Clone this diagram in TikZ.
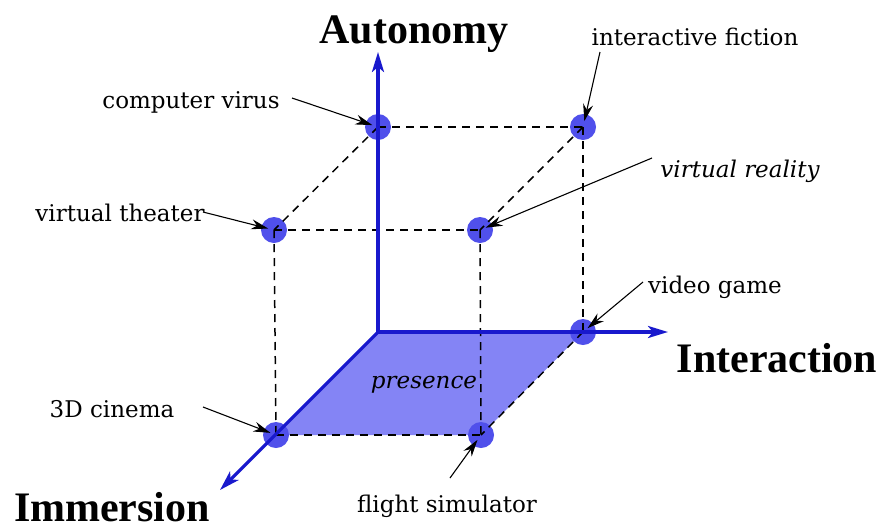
\documentclass[tikz,border=0pt]{standalone}
\usepackage{fontspec}
\setmainfont{Liberation Serif}
\newfontfamily\lblfont{DejaVu Serif}
\usetikzlibrary{arrows.meta}
\definecolor{axisblue}{RGB}{25,25,205}
\definecolor{dotblue}{RGB}{80,80,235}
\definecolor{planeblue}{RGB}{132,132,245}
\tikzset{
  dotnode/.style={circle,fill=dotblue,draw=none,minimum size=26pt,inner sep=0pt},
  axisline/.style={draw=axisblue,line width=3.2pt,-{Stealth[length=20pt,width=12pt,inset=5pt]}},
  dashline/.style={draw=black,line width=1.5pt,dash pattern=on 8pt off 6pt},
  leader/.style={draw=black,line width=1.1pt,-{Stealth[length=17pt,width=10pt]},shorten >=6pt},
  lbl/.style={font=\lblfont\fontsize{23}{26}\selectfont,inner sep=0pt,anchor=base},
  ilbl/.style={font=\lblfont\itshape\fontsize{23}{26}\selectfont,inner sep=0pt,anchor=base},
  biglbl/.style={font=\bfseries\fontsize{42}{48}\selectfont,inner sep=0pt,anchor=base}
}
\begin{document}
\begin{tikzpicture}[x=1pt,y=-1pt]
\useasboundingbox (0,0) rectangle (883,531);
\fill[white] (0,0) rectangle (883,531);
% corner coordinates
\coordinate (O) at (378,332);
\coordinate (autTip) at (378,52);
\coordinate (intTip) at (668,332);
\coordinate (immTip) at (220,490);
% presence plane
\fill[planeblue] (378,332) -- (583,332) -- (481,435) -- (276,435) -- cycle;
% dots
\node[dotnode] (cv) at (378,127) {};
\node[dotnode] (if) at (583,127) {};
\node[dotnode] (vt) at (274,230) {};
\node[dotnode] (vr) at (480,230) {};
\node[dotnode] (vg) at (583,332) {};
\node[dotnode] (c3) at (276,435) {};
\node[dotnode] (fs) at (481,435) {};
% dashed cube edges
\draw[dashline] (cv.center) -- (if.center);
\draw[dashline] (vt.center) -- (vr.center);
\draw[dashline] (c3.center) -- (fs.center);
\draw[dashline] (cv.center) -- (vt.center);
\draw[dashline] (if.center) -- (vr.center);
\draw[dashline] (vg.center) -- (fs.center);
\draw[dashline] (vt.center) -- (c3.center);
\draw[dashline] (vr.center) -- (fs.center);
\draw[dashline] (if.center) -- (vg.center);
% axes
\draw[axisline] (O) -- (autTip);
\draw[axisline] (O) -- (intTip);
\draw[axisline] (O) -- (immTip);
% presence label
\node[ilbl] (pres) at (424,388) {presence};
% axis labels
\node[biglbl] (laut) at (414,43) {Autonomy};
\node[biglbl] (lint) at (777,372) {Interaction};
\node[biglbl] (limm) at (112,521) {Immersion};
% small labels
\node[lbl] (tcv) at (191,108) {computer virus};
\node[lbl] (tif) at (695,45) {interactive fiction};
\node[lbl] (tvt) at (120,221) {virtual theater};
\node[ilbl] (tvr) at (740,177) {virtual reality};
\node[lbl] (tvg) at (715,293) {video game};
\node[lbl] (tc3) at (112,417) {3D cinema};
\node[lbl] (tfs) at (447,512) {flight simulator};
% leader start points
\coordinate (scv) at (292,98);
\coordinate (sif) at (600,52);
\coordinate (svt) at (203,212);
\coordinate (svr) at (652,158);
\coordinate (svg) at (643,282);
\coordinate (sc3) at (203,407);
\coordinate (sfs) at (450,478);
% leaders
\draw[leader] (scv) -- (cv.center);
\draw[leader] (sif) -- (if.center);
\draw[leader] (svt) -- (vt.center);
\draw[leader] (svr) -- (vr.center);
\draw[leader] (svg) -- (vg.center);
\draw[leader] (sc3) -- (c3.center);
\draw[leader] (sfs) -- (fs.center);
\end{tikzpicture}
\end{document}
